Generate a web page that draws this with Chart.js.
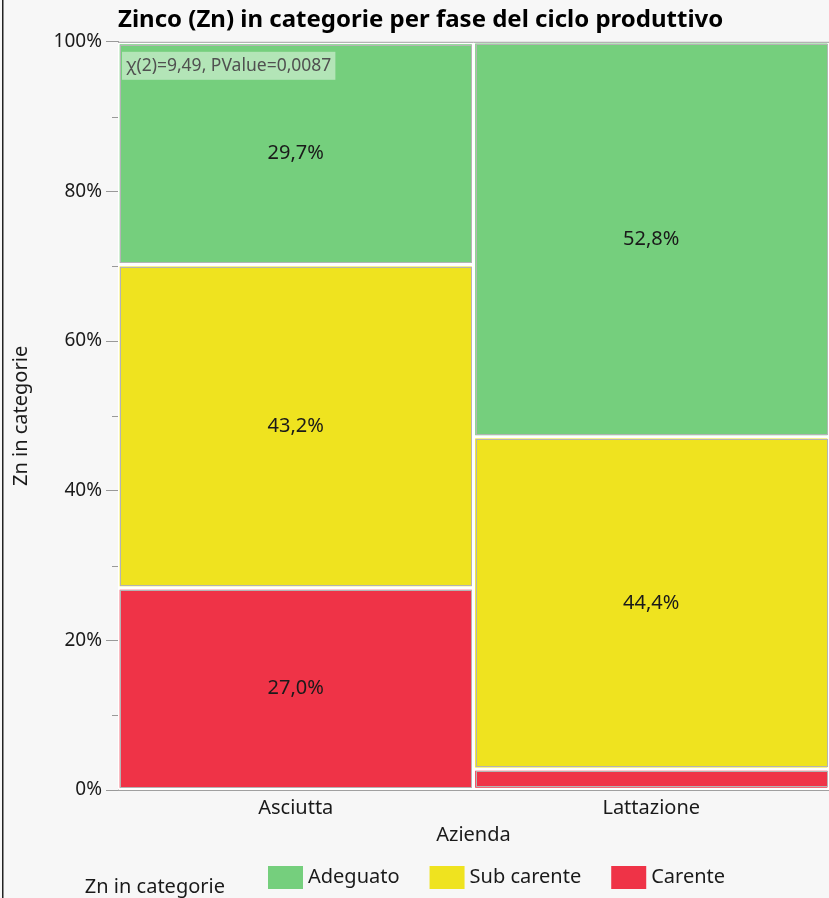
<!DOCTYPE html>
<html>
<head>
<meta charset="utf-8">
<script src="https://cdn.jsdelivr.net/npm/chart.js@4.4.1/dist/chart.umd.min.js"></script>
<style>
  html, body { margin: 0; padding: 0; background: #f7f7f7; }
  canvas { display: block; }
</style>
</head>
<body>
<canvas id="mosaic" width="829" height="898"></canvas>
<script>
// data (percent of each column)
var categories = ['Asciutta', 'Lattazione'];
var carente = [27.0, 2.8];
var subCarente = [43.2, 44.4];
var adeguato = [29.7, 52.8];
var seriesNames = ['Carente', 'Sub carente', 'Adeguato'];
var seriesColors = ['#ef3347', '#efe31f', '#75cf7d'];
var statsText = 'χ(2)=9,49, PValue=0,0087';
var legendTitle = 'Zn in categorie';

var FONT = "'Noto Sans', 'DejaVu Sans', sans-serif";

function fmtPct(v) {
  return v.toFixed(1).replace('.', ',') + '%';
}

// background, outlines, labels and legend
var mosaicExtras = {
  id: 'mosaicExtras',
  beforeDraw: function(chart) {
    var ctx = chart.ctx, a = chart.chartArea;
    ctx.save();
    ctx.fillStyle = '#f7f7f7';
    ctx.fillRect(0, 0, chart.width, chart.height);
    ctx.fillStyle = '#ffffff';
    ctx.fillRect(a.left, a.top, a.right - a.left, a.bottom - a.top);
    ctx.restore();
  },
  afterDatasetsDraw: function(chart) {
    var ctx = chart.ctx, a = chart.chartArea;
    ctx.save();
    // thin grey outline round each tile
    ctx.strokeStyle = '#b4b4b4';
    ctx.lineWidth = 1;
    chart.data.datasets.forEach(function(ds, di) {
      chart.getDatasetMeta(di).data.forEach(function(el) {
        var x0 = el.x - el.width / 2 + 2, x1 = el.x + el.width / 2 - 2;
        var y0 = Math.min(el.y, el.base) + 2, y1 = Math.max(el.y, el.base) - 2;
        ctx.strokeRect(Math.round(x0) + 0.5, Math.round(y0) + 0.5, Math.round(x1 - x0) - 1, Math.round(y1 - y0) - 1);
      });
    });
    // percentage labels
    ctx.fillStyle = '#1a1a1a';
    ctx.font = '20px ' + FONT;
    ctx.textAlign = 'center';
    ctx.textBaseline = 'middle';
    chart.data.datasets.forEach(function(ds, di) {
      chart.getDatasetMeta(di).data.forEach(function(el, i) {
        var v = ds.data[i];
        if (v < 5) return;
        ctx.fillText(fmtPct(v), el.x, (el.y + el.base) / 2);
      });
    });
    // top frame line
    ctx.strokeStyle = '#a0a0a0';
    ctx.beginPath();
    ctx.moveTo(a.left, a.top + 0.5);
    ctx.lineTo(a.right, a.top + 0.5);
    ctx.stroke();
    // minor ticks on y axis
    var ys = chart.scales.y;
    ctx.strokeStyle = '#999';
    for (var v = 10; v < 100; v += 20) {
      var py = Math.round(ys.getPixelForValue(v)) + 0.5;
      ctx.beginPath();
      ctx.moveTo(a.left - 6, py);
      ctx.lineTo(a.left, py);
      ctx.stroke();
    }
    // stats box
    ctx.font = '17.5px ' + FONT;
    ctx.textAlign = 'left';
    var tw = ctx.measureText(statsText).width;
    ctx.fillStyle = 'rgba(255,255,255,0.45)';
    ctx.fillRect(a.left + 4, a.top + 10, tw + 8, 28);
    ctx.fillStyle = '#505050';
    ctx.fillText(statsText, a.left + 8, a.top + 24);
    ctx.restore();
  },
  afterDraw: function(chart) {
    var ctx = chart.ctx;
    ctx.save();
    // window frame on the left
    ctx.fillStyle = '#222';
    ctx.fillRect(2, 0, 1.5, chart.height);
    // legend
    var y = chart.height - 32;
    ctx.font = '20px ' + FONT;
    ctx.textBaseline = 'middle';
    ctx.fillStyle = '#1a1a1a';
    ctx.textAlign = 'right';
    ctx.fillText(legendTitle, 225, y + 21);
    ctx.textAlign = 'left';
    var x = 268;
    for (var i = seriesNames.length - 1; i >= 0; i--) {
      ctx.fillStyle = seriesColors[i];
      ctx.fillRect(x, y, 35, 23);
      ctx.fillStyle = '#1a1a1a';
      ctx.fillText(seriesNames[i], x + 40, y + 11);
      x += 40 + ctx.measureText(seriesNames[i]).width + 30;
    }
    ctx.restore();
  }
};

var seriesValues = [carente, subCarente, adeguato];
var datasets = seriesValues.map(function(vals, i) {
  return {
    label: seriesNames[i],
    data: vals,
    backgroundColor: seriesColors[i],
    borderColor: '#ffffff',
    borderWidth: 2,
    borderSkipped: false,
    barPercentage: 1,
    categoryPercentage: 1
  };
});

var chart = new Chart(document.getElementById('mosaic'), {
  type: 'bar',
  data: { labels: categories, datasets: datasets },
  options: {
    responsive: false,
    animation: false,
    layout: { padding: { left: 0, right: 0, top: 0, bottom: 48 } },
    plugins: {
      legend: { display: false },
      tooltip: { enabled: false },
      title: {
        display: true,
        text: 'Zinco (Zn) in categorie per fase del ciclo produttivo',
        align: 'start',
        fullSize: false,
        color: '#000',
        font: { family: FONT, size: 24, weight: 'bold', lineHeight: 1.2 },
        padding: { top: 6, bottom: 7 }
      }
    },
    scales: {
      x: {
        stacked: true,
        grid: { display: false, drawTicks: false },
        border: { color: '#a0a0a0' },
        ticks: { color: '#1a1a1a', font: { family: FONT, size: 20 }, padding: 6 },
        title: { display: true, text: 'Azienda', color: '#1a1a1a', font: { family: FONT, size: 20 }, padding: { top: 2, bottom: 3 } },
        afterFit: function(s) { s.height = 60; }
      },
      y: {
        stacked: true,
        min: 0,
        max: 100,
        grid: { drawOnChartArea: false, tickLength: 12, tickColor: '#999' },
        border: { color: '#a0a0a0' },
        ticks: { stepSize: 20, color: '#1a1a1a', padding: 4, font: { family: FONT, size: 19 },
          callback: function(v) { return v + '%'; } },
        title: { display: true, text: 'Zn in categorie', color: '#1a1a1a', font: { family: FONT, size: 20 }, padding: { top: 9, bottom: 0 } },
        afterFit: function(s) { s.width = 118; }
      }
    }
  },
  plugins: [mosaicExtras]
});
</script>
</body>
</html>
